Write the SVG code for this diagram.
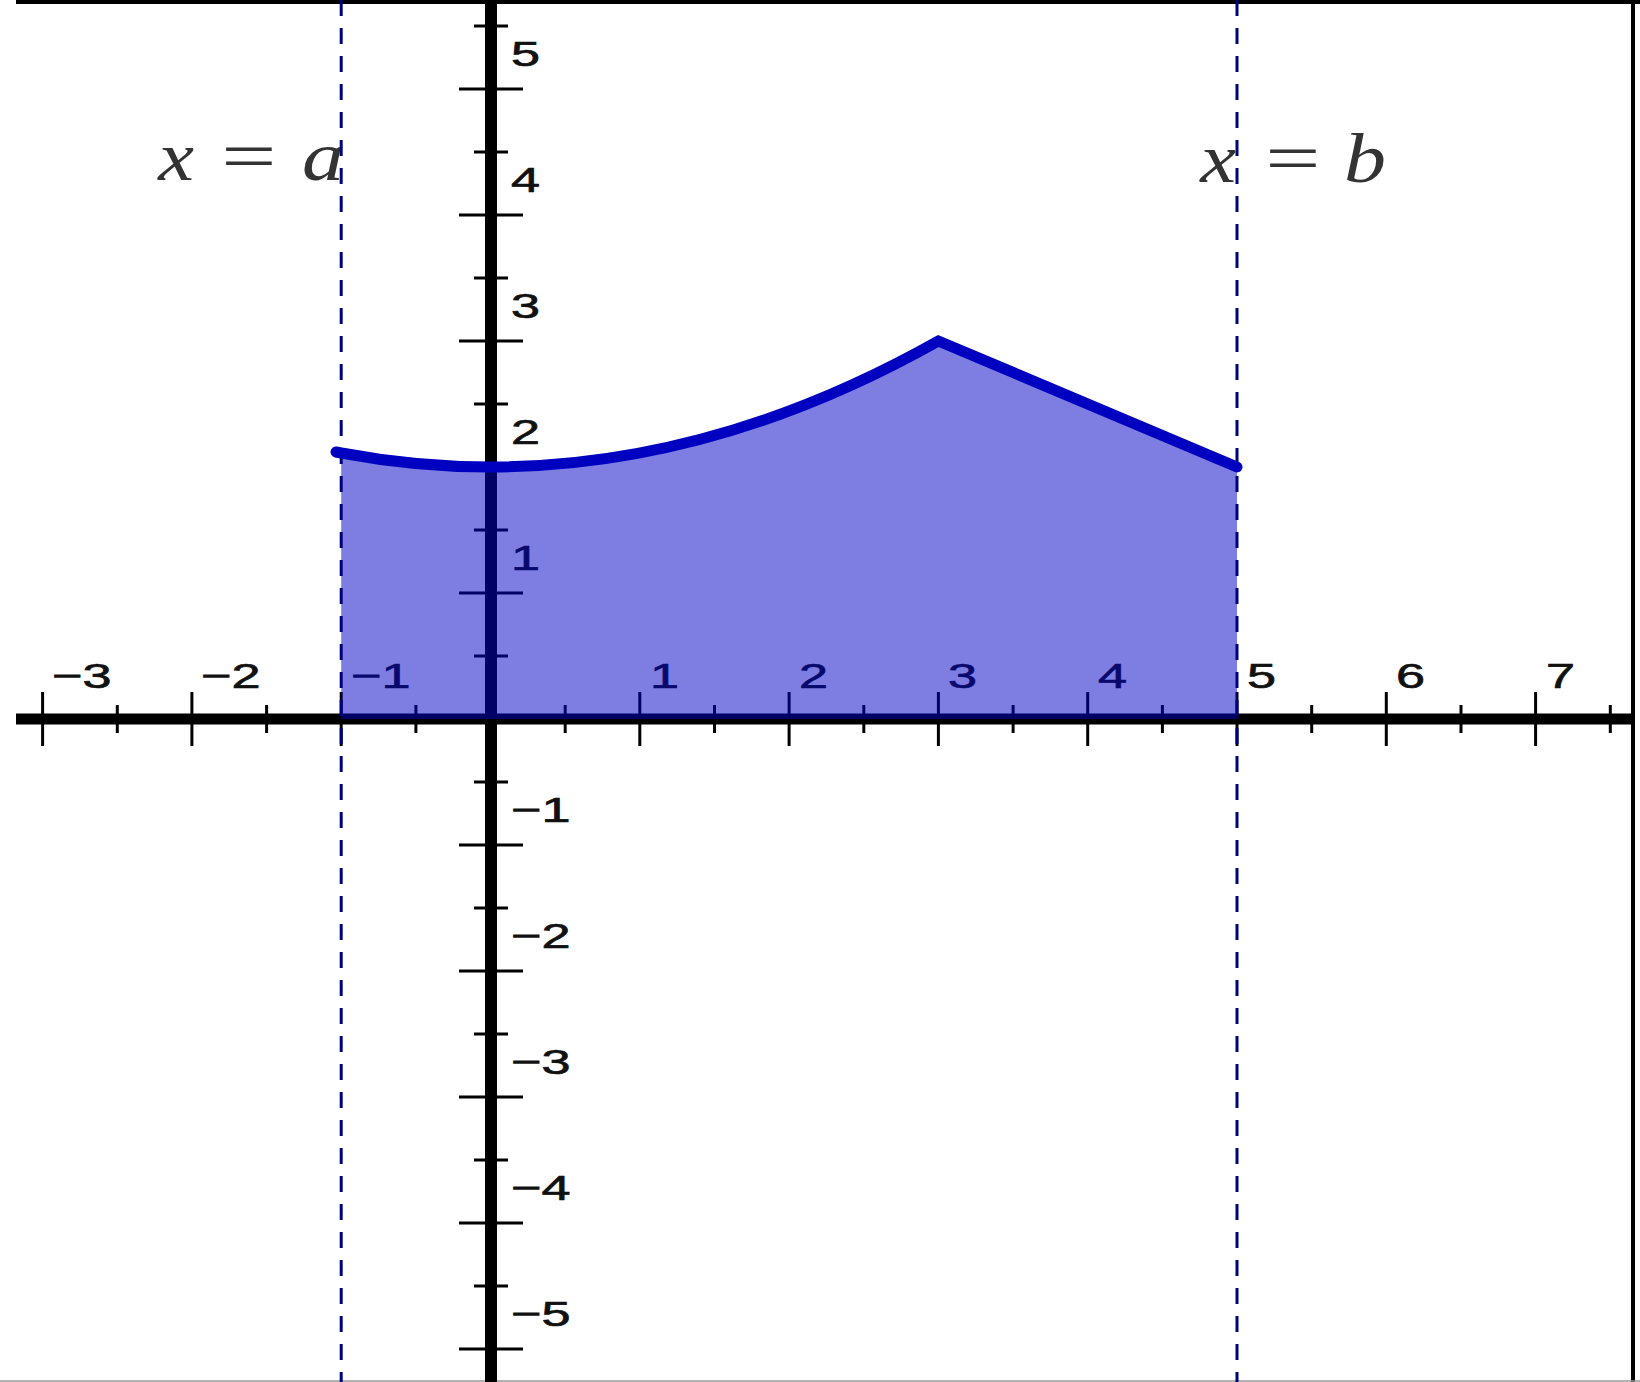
<svg xmlns="http://www.w3.org/2000/svg" width="1640" height="1382" viewBox="0 0 1640 1382">
<defs>
<style>
.axis{stroke:#000;fill:none}
.tk{stroke:#000;stroke-width:3}
.lbl{font-family:"Liberation Sans",Arial,sans-serif;font-size:36px;fill:#111;stroke:#111;stroke-width:0.7}
.eq{font-family:"Liberation Serif","Times New Roman",serif;font-size:70px;fill:#333;text-anchor:middle}
.it{font-style:italic}
.dash{stroke:#00007a;stroke-width:3;stroke-dasharray:16 12;fill:none}
</style>
</defs>
<rect width="1640" height="1382" fill="#fff"/>
<g id="frame">
<line x1="16" y1="2" x2="1640" y2="2" stroke="#000" stroke-width="4"/>
<line x1="1633" y1="0" x2="1633" y2="1382" stroke="#000" stroke-width="4"/>
<line x1="0" y1="1381" x2="1640" y2="1381" stroke="#999" stroke-width="1.5"/>
</g>
<g id="x-axis">
<line class="axis" x1="16" y1="719" x2="1632" y2="719" stroke-width="11"/>
<g class="tk">
<line x1="42.6" y1="692" x2="42.6" y2="746"/>
<line x1="191.9" y1="692" x2="191.9" y2="746"/>
<line x1="341.2" y1="692" x2="341.2" y2="746"/>
<line x1="639.8" y1="692" x2="639.8" y2="746"/>
<line x1="789.1" y1="692" x2="789.1" y2="746"/>
<line x1="938.4" y1="692" x2="938.4" y2="746"/>
<line x1="1087.7" y1="692" x2="1087.7" y2="746"/>
<line x1="1237" y1="692" x2="1237" y2="746"/>
<line x1="1386.3" y1="692" x2="1386.3" y2="746"/>
<line x1="1535.6" y1="692" x2="1535.6" y2="746"/>
<line x1="117.3" y1="705" x2="117.3" y2="733"/>
<line x1="266.6" y1="705" x2="266.6" y2="733"/>
<line x1="415.9" y1="705" x2="415.9" y2="733"/>
<line x1="565.2" y1="705" x2="565.2" y2="733"/>
<line x1="714.5" y1="705" x2="714.5" y2="733"/>
<line x1="863.8" y1="705" x2="863.8" y2="733"/>
<line x1="1013.1" y1="705" x2="1013.1" y2="733"/>
<line x1="1162.4" y1="705" x2="1162.4" y2="733"/>
<line x1="1311.7" y1="705" x2="1311.7" y2="733"/>
<line x1="1461" y1="705" x2="1461" y2="733"/>
<line x1="1610.3" y1="705" x2="1610.3" y2="733"/>
</g>
<g class="lbl">
<text transform="translate(52,688) scale(1.45,1)">−3</text>
<text transform="translate(201,688) scale(1.45,1)">−2</text>
<text transform="translate(351,688) scale(1.45,1)">−1</text>
<text transform="translate(650,688) scale(1.45,1)">1</text>
<text transform="translate(799,688) scale(1.45,1)">2</text>
<text transform="translate(948,688) scale(1.45,1)">3</text>
<text transform="translate(1098,688) scale(1.45,1)">4</text>
<text transform="translate(1247,688) scale(1.45,1)">5</text>
<text transform="translate(1396,688) scale(1.45,1)">6</text>
<text transform="translate(1546,688) scale(1.45,1)">7</text>
</g>
</g>
<g id="y-axis">
<line class="axis" x1="491" y1="0" x2="491" y2="1382" stroke-width="12"/>
<g class="tk">
<line x1="459" y1="89" x2="523" y2="89"/>
<line x1="459" y1="215" x2="523" y2="215"/>
<line x1="459" y1="341" x2="523" y2="341"/>
<line x1="459" y1="467" x2="523" y2="467"/>
<line x1="459" y1="593" x2="523" y2="593"/>
<line x1="459" y1="845" x2="523" y2="845"/>
<line x1="459" y1="971" x2="523" y2="971"/>
<line x1="459" y1="1097" x2="523" y2="1097"/>
<line x1="459" y1="1223" x2="523" y2="1223"/>
<line x1="459" y1="1349" x2="523" y2="1349"/>
<line x1="474" y1="26" x2="508" y2="26"/>
<line x1="474" y1="152" x2="508" y2="152"/>
<line x1="474" y1="278" x2="508" y2="278"/>
<line x1="474" y1="404" x2="508" y2="404"/>
<line x1="474" y1="530" x2="508" y2="530"/>
<line x1="474" y1="656" x2="508" y2="656"/>
<line x1="474" y1="782" x2="508" y2="782"/>
<line x1="474" y1="908" x2="508" y2="908"/>
<line x1="474" y1="1034" x2="508" y2="1034"/>
<line x1="474" y1="1160" x2="508" y2="1160"/>
<line x1="474" y1="1286" x2="508" y2="1286"/>
</g>
<g class="lbl">
<text transform="translate(511,66) scale(1.45,1)">5</text>
<text transform="translate(511,192) scale(1.45,1)">4</text>
<text transform="translate(511,318) scale(1.45,1)">3</text>
<text transform="translate(511,444) scale(1.45,1)">2</text>
<text transform="translate(511,570) scale(1.45,1)">1</text>
<text transform="translate(511,822) scale(1.45,1)">−1</text>
<text transform="translate(511,948) scale(1.45,1)">−2</text>
<text transform="translate(511,1074) scale(1.45,1)">−3</text>
<text transform="translate(511,1200) scale(1.45,1)">−4</text>
<text transform="translate(511,1326) scale(1.45,1)">−5</text>
</g>
</g>
<g id="label-a">
<text class="eq it" transform="translate(176,180) scale(1.15,1)">x</text>
<text class="eq" transform="translate(249,180) scale(1.4,1)">=</text>
<text class="eq it" transform="translate(323,180) scale(1.2,1)">a</text>
</g>
<g id="label-b">
<text class="eq it" transform="translate(1218,182) scale(1.15,1)">x</text>
<text class="eq" transform="translate(1293,182) scale(1.4,1)">=</text>
<text class="eq it" transform="translate(1365,182) scale(1.2,1)">b</text>
</g>
<g id="region">
<path d="M341.2 719 L341.2 453 Q639.8 509 938.4 341 L1237 467 L1237 719 Z" fill="#0000c6" fill-opacity="0.51"/>
</g>
<g id="connectors">
<line class="dash" x1="341.2" y1="0" x2="341.2" y2="1382"/>
<line class="dash" x1="1237" y1="0" x2="1237" y2="1382"/>
</g>
<g id="curve">
<path d="M336 452 L341.2 453 Q639.8 509 938.4 341 L1237 467" fill="none" stroke="#0000c0" stroke-width="11" stroke-linejoin="miter" stroke-linecap="round"/>
</g>
</svg>
